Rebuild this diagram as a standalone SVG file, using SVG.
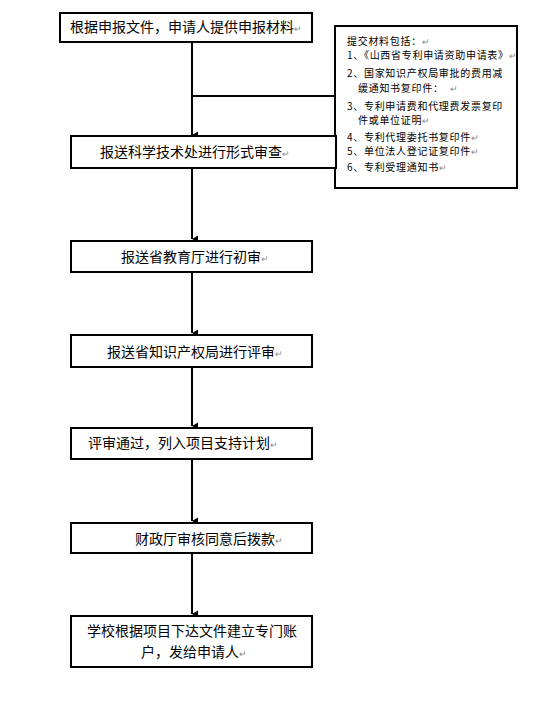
<svg xmlns="http://www.w3.org/2000/svg" width="536" height="701" viewBox="0 0 536 701">
<defs>
<style>
.box{fill:#fff;stroke:#000;stroke-width:2}
.t{font-family:"Noto Sans CJK SC","Liberation Sans",sans-serif;font-size:14px;fill:#000}
.s{font-family:"Noto Sans CJK SC","Liberation Sans",sans-serif;font-size:10px;fill:#000;letter-spacing:0.7px}
.pm{fill:#888;font-size:9px;letter-spacing:0}
.ln{fill:none;stroke:#000;stroke-width:2}
</style>
<marker id="ah" markerUnits="userSpaceOnUse" markerWidth="8" markerHeight="7" refX="4" refY="6" orient="auto" viewBox="0 0 8 7">
<path d="M0.5,0 L7.5,0 L4,6 Z" fill="#000"/>
</marker>
</defs>
<rect width="536" height="701" fill="#fff"/>
<g id="connectors">
<line class="ln" x1="192" y1="42" x2="192" y2="135" marker-end="url(#ah)"/>
<line class="ln" x1="192" y1="96" x2="335" y2="96"/>
<line class="ln" x1="192" y1="168" x2="192" y2="239" marker-end="url(#ah)"/>
<line class="ln" x1="192" y1="272" x2="192" y2="333" marker-end="url(#ah)"/>
<line class="ln" x1="192" y1="367" x2="192" y2="426" marker-end="url(#ah)"/>
<line class="ln" x1="192" y1="459" x2="192" y2="521" marker-end="url(#ah)"/>
<line class="ln" x1="192" y1="553" x2="192" y2="614" marker-end="url(#ah)"/>
</g>
<g id="n1">
<rect class="box" x="60" y="13" width="252" height="29"/>
<text class="t" x="70" y="32">根据申报文件，申请人提供申报材料<tspan class="pm">↵</tspan></text>
</g>
<g id="materials">
<rect class="box" x="335" y="26" width="182" height="162"/>
<text class="s" x="347" y="45">提交材料包括：<tspan class="pm">↵</tspan></text>
<text class="s" x="347" y="59">1、《山西省专利申请资助申请表》<tspan class="pm">↵</tspan></text>
<text class="s" x="347" y="77">2、国家知识产权局审批的费用减</text>
<text class="s" x="358" y="92">缓通知书复印件：<tspan class="pm" x="450">↵</tspan></text>
<text class="s" x="347" y="110">3、专利申请费和代理费发票复印</text>
<text class="s" x="358" y="124">件或单位证明<tspan class="pm">↵</tspan></text>
<text class="s" x="347" y="141">4、专利代理委托书复印件<tspan class="pm">↵</tspan></text>
<text class="s" x="347" y="155">5、单位法人登记证复印件<tspan class="pm">↵</tspan></text>
<text class="s" x="347" y="171">6、专利受理通知书<tspan class="pm">↵</tspan></text>
</g>
<g id="n2">
<rect class="box" x="71" y="136" width="265" height="32"/>
<text class="t" x="100" y="157">报送科学技术处进行形式审查<tspan class="pm">↵</tspan></text>
</g>
<g id="n3">
<rect class="box" x="71" y="241" width="241" height="31"/>
<text class="t" x="121" y="262">报送省教育厅进行初审<tspan class="pm">↵</tspan></text>
</g>
<g id="n4">
<rect class="box" x="71" y="335" width="241" height="32"/>
<text class="t" x="107" y="357">报送省知识产权局进行评审<tspan class="pm">↵</tspan></text>
</g>
<g id="n5">
<rect class="box" x="71" y="428" width="241" height="31"/>
<text class="t" x="88" y="448">评审通过，列入项目支持计划<tspan class="pm">↵</tspan></text>
</g>
<g id="n6">
<rect class="box" x="71" y="523" width="241" height="30"/>
<text class="t" x="135" y="544">财政厅审核同意后拨款<tspan class="pm">↵</tspan></text>
</g>
<g id="n7">
<rect class="box" x="71" y="616" width="241" height="51"/>
<text class="t" x="87" y="636">学校根据项目下达文件建立专门账</text>
<text class="t" x="141" y="657">户，发给申请人<tspan class="pm">↵</tspan></text>
</g>
</svg>
